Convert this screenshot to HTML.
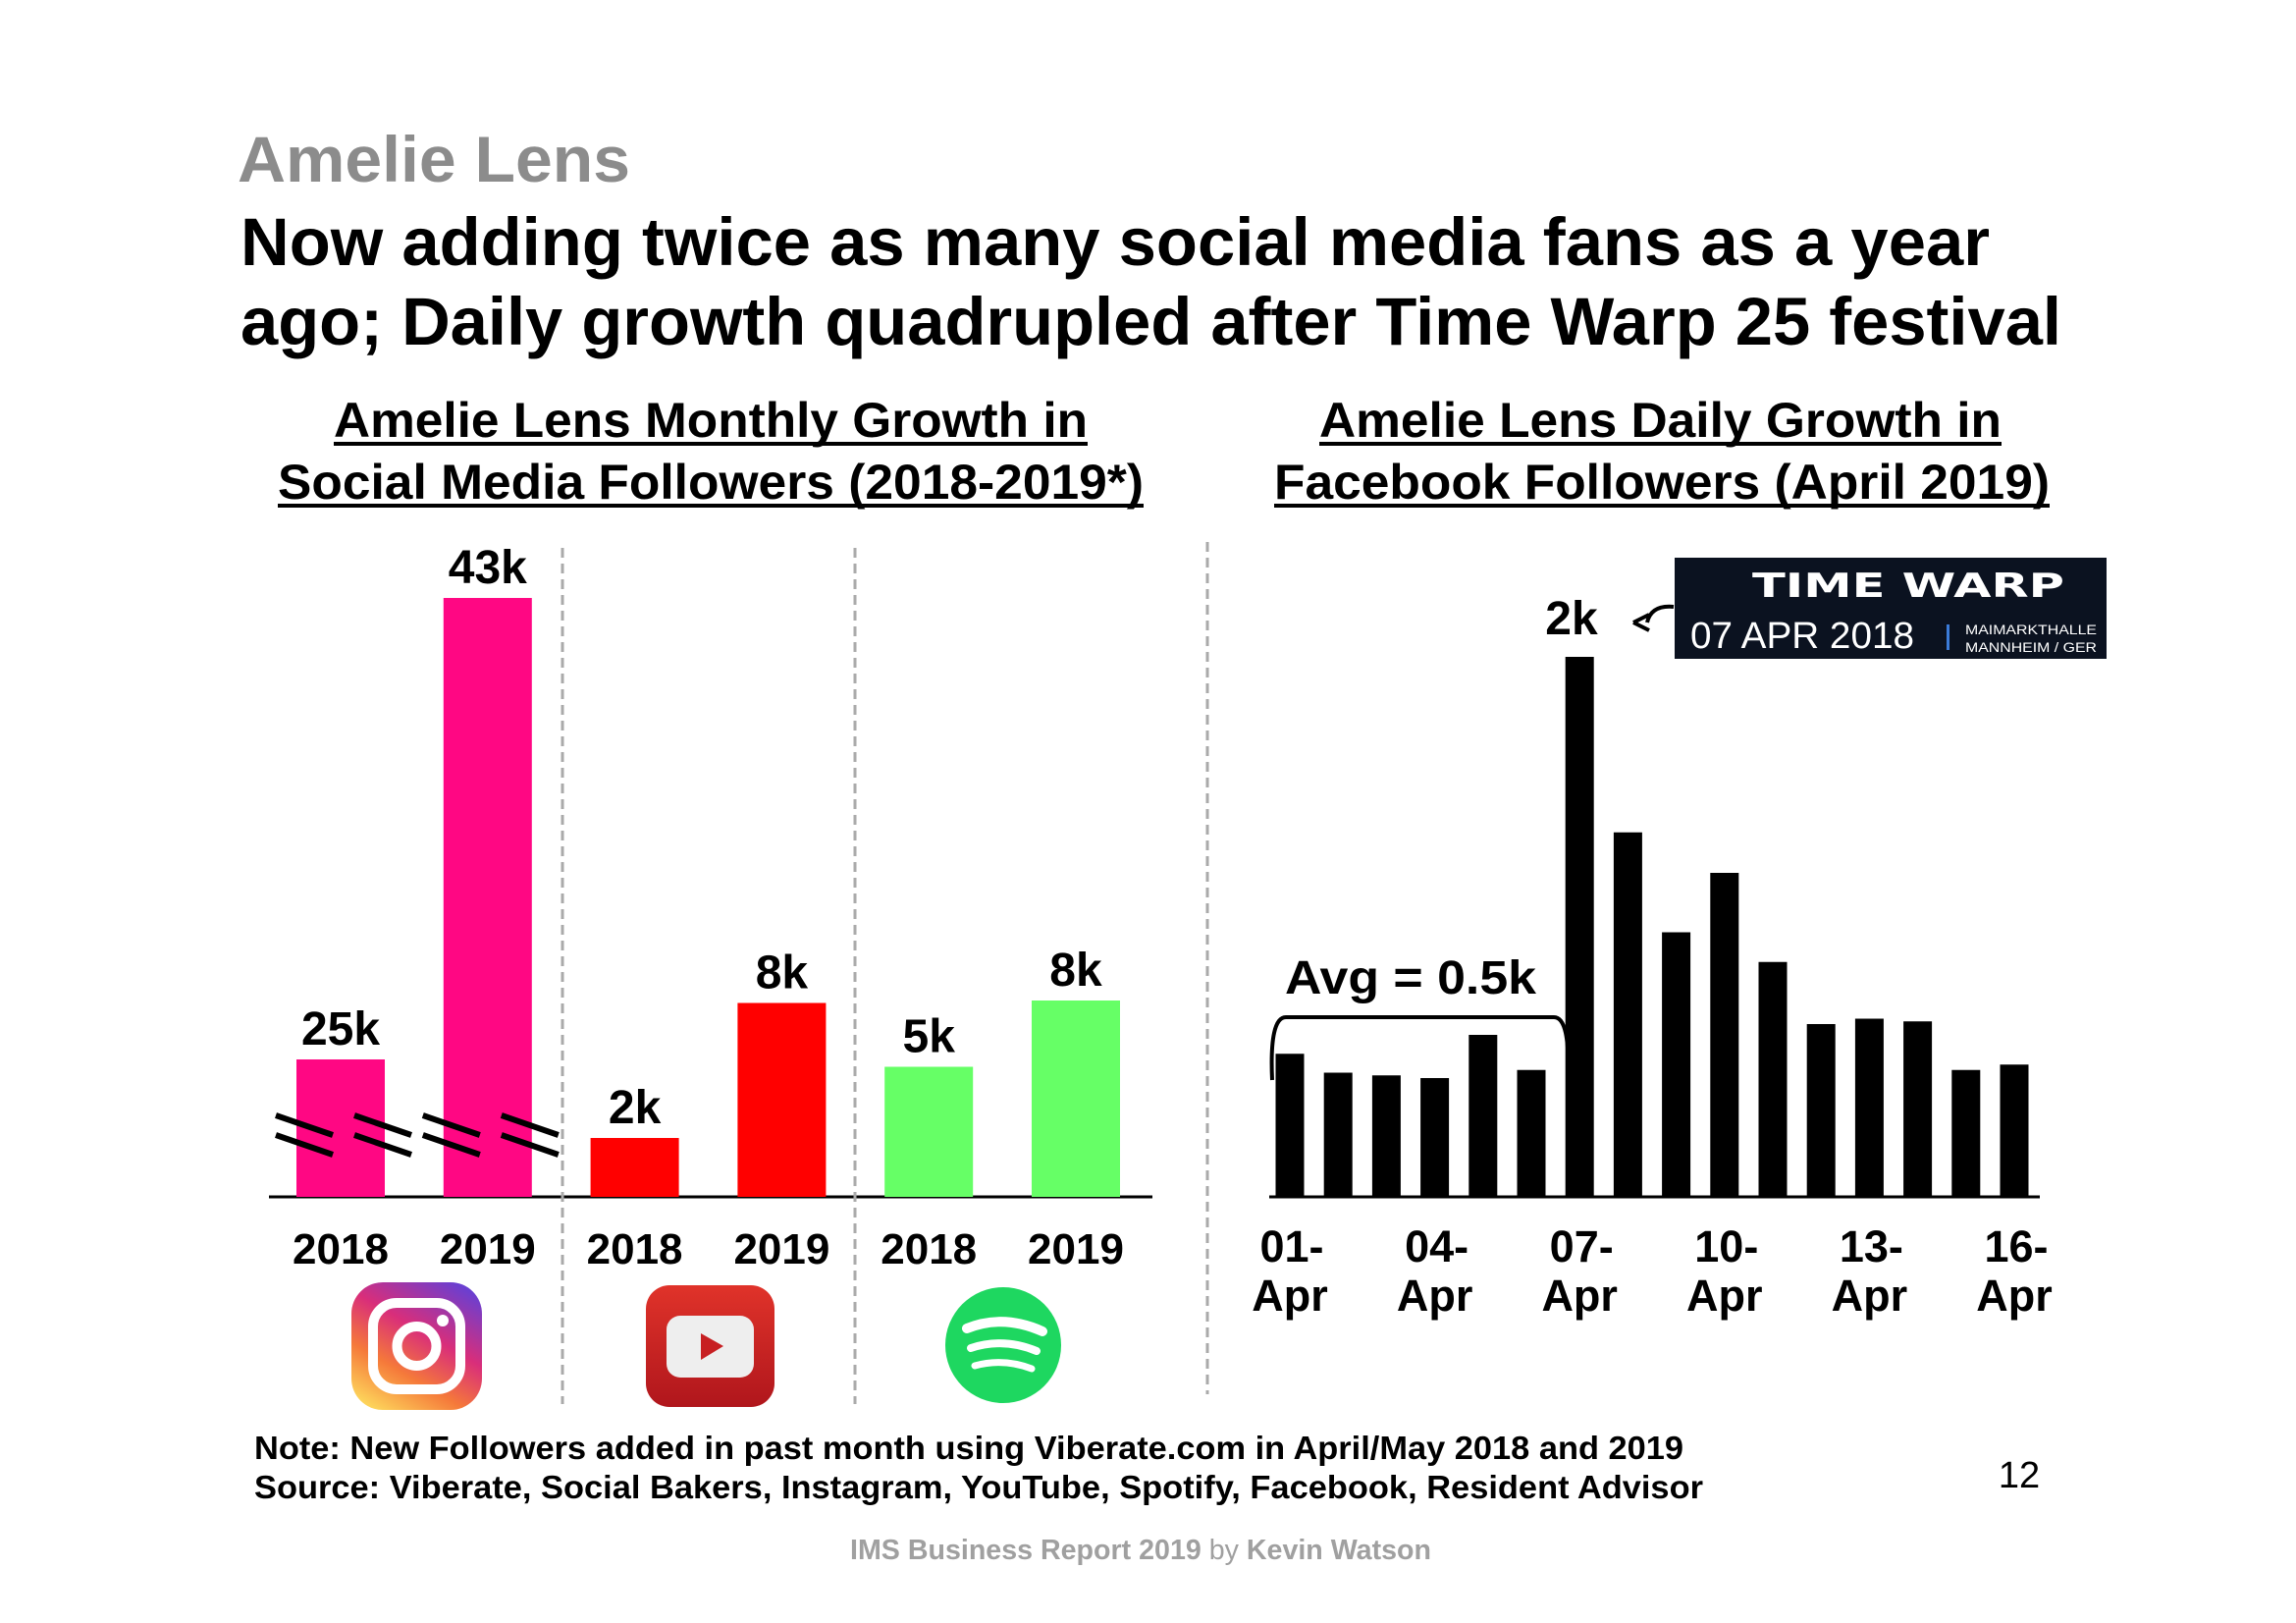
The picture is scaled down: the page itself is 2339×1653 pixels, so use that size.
<!DOCTYPE html>
<html><head><meta charset="utf-8"><style>
html,body{margin:0;padding:0;background:#fff;}
svg{display:block;font-family:"Liberation Sans",Arial,sans-serif;}
</style></head><body>
<svg id="root" width="2339" height="1653" viewBox="0 0 2339 1653" xmlns="http://www.w3.org/2000/svg">
<defs>
<linearGradient id="igg" x1="0.2" y1="1" x2="0.8" y2="0">
<stop offset="0" stop-color="#fdd35a"/><stop offset="0.3" stop-color="#f5793a"/><stop offset="0.6" stop-color="#d92e7a"/><stop offset="1" stop-color="#6a3fd1"/>
</linearGradient>
<linearGradient id="ytg" x1="0" y1="0" x2="0" y2="1"><stop offset="0" stop-color="#e0332a"/><stop offset="1" stop-color="#b0161c"/></linearGradient>
</defs>
<text x="242" y="185" font-size="66" font-weight="bold" fill="#8c8c8c" textLength="400" lengthAdjust="spacingAndGlyphs">Amelie Lens</text>
<text x="245" y="270" font-size="69" font-weight="bold" fill="#000" textLength="1782" lengthAdjust="spacingAndGlyphs">Now adding twice as many social media fans as a year</text>
<text x="245" y="351" font-size="69" font-weight="bold" fill="#000" textLength="1855" lengthAdjust="spacingAndGlyphs">ago; Daily growth quadrupled after Time Warp 25 festival</text>

<g font-size="50" font-weight="bold">
<text x="340" y="445" textLength="768" lengthAdjust="spacingAndGlyphs">Amelie Lens Monthly Growth in</text>
<rect x="340" y="450" width="768" height="4" fill="#000"/>
<text x="283" y="508" textLength="882" lengthAdjust="spacingAndGlyphs">Social Media Followers (2018-2019*)</text>
<rect x="283" y="513" width="882" height="4" fill="#000"/>
</g>
<g font-size="50" font-weight="bold">
<text x="1344" y="445" textLength="695" lengthAdjust="spacingAndGlyphs">Amelie Lens Daily Growth in</text>
<rect x="1344" y="450" width="695" height="4" fill="#000"/>
<text x="1298" y="508" textLength="790" lengthAdjust="spacingAndGlyphs">Facebook Followers (April 2019)</text>
<rect x="1298" y="513" width="790" height="4" fill="#000"/>
</g>

<g id="left"></g>
<g id="right"></g>

<line x1="573" y1="558" x2="573" y2="1430" stroke="#aaa" stroke-width="3" stroke-dasharray="10,6"/>
<line x1="871" y1="558" x2="871" y2="1430" stroke="#aaa" stroke-width="3" stroke-dasharray="10,6"/>
<line x1="1230" y1="552" x2="1230" y2="1420" stroke="#aaa" stroke-width="3" stroke-dasharray="10,6"/>

<g>
<rect x="358" y="1306" width="133" height="130" rx="32" fill="url(#igg)"/>
<rect x="380" y="1327" width="89" height="88" rx="24" fill="none" stroke="#fff" stroke-width="10"/>
<circle cx="424.5" cy="1371" r="20" fill="none" stroke="#fff" stroke-width="10"/>
<circle cx="451" cy="1345" r="6" fill="#fff"/>
</g>
<g>
<rect x="658" y="1309" width="131" height="124" rx="24" fill="url(#ytg)"/>
<rect x="679" y="1340" width="89" height="63" rx="14" fill="#eee"/>
<polygon points="714,1358 714,1385 737,1371" fill="#c71f22"/>
</g>
<g>
<circle cx="1022" cy="1370" r="59" fill="#1ed760"/>
<path d="M985 1353 Q1022 1338 1062 1356" fill="none" stroke="#fff" stroke-width="10" stroke-linecap="round"/>
<path d="M989 1373 Q1022 1362 1056 1376" fill="none" stroke="#fff" stroke-width="8" stroke-linecap="round"/>
<path d="M993 1391 Q1022 1383 1051 1394" fill="none" stroke="#fff" stroke-width="7" stroke-linecap="round"/>
</g>

<g>
<rect x="1706" y="568" width="440" height="103" fill="#0b1220"/>
<text x="1785" y="608" font-size="34" font-weight="bold" fill="#fff" textLength="318" lengthAdjust="spacingAndGlyphs" font-family="'DejaVu Sans',sans-serif">TIME WARP</text>
<text x="1722" y="660" font-size="38" fill="#fff" textLength="228" lengthAdjust="spacingAndGlyphs">07 APR 2018</text>
<rect x="1983" y="636" width="3" height="26" fill="#3b7bd8"/>
<text x="2002" y="646" font-size="14" fill="#fff" textLength="134" lengthAdjust="spacingAndGlyphs">MAIMARKTHALLE</text>
<text x="2002" y="664" font-size="14" fill="#fff" textLength="134" lengthAdjust="spacingAndGlyphs">MANNHEIM / GER</text>
</g>
<path d="M1705 618 Q1682 616 1678 634" fill="none" stroke="#000" stroke-width="4"/>
<path d="M1664 634 L1680 626 M1664 634 L1680 642" stroke="#000" stroke-width="4" fill="none"/>
<text x="1601" y="646" font-size="48" font-weight="bold" text-anchor="middle">2k</text>

<path d="M1296 1100 Q1293 1036 1310 1036 L1583 1036 Q1600 1036 1597 1100" fill="none" stroke="#000" stroke-width="4"/>
<text x="1309" y="1012" font-size="48" font-weight="bold" textLength="256" lengthAdjust="spacingAndGlyphs">Avg = 0.5k</text>

<g font-weight="bold" font-size="33">
<text x="259" y="1486" textLength="1456" lengthAdjust="spacingAndGlyphs">Note: New Followers added in past month using Viberate.com in April/May 2018 and 2019</text>
<text x="259" y="1526" textLength="1476" lengthAdjust="spacingAndGlyphs">Source: Viberate, Social Bakers, Instagram, YouTube, Spotify, Facebook, Resident Advisor</text>
</g>
<text x="2057" y="1515" font-size="38" text-anchor="middle">12</text>
<text x="866" y="1588" font-size="29" fill="#a0a0a0" textLength="592" lengthAdjust="spacingAndGlyphs"><tspan font-weight="bold">IMS Business Report 2019 </tspan><tspan>by </tspan><tspan font-weight="bold">Kevin Watson</tspan></text>
</svg>
<script>
const monthlyYears = ["2018","2019","2018","2019","2018","2019"];
const monthlyValues = [25, 43, 2.4, 7.9, 5.3, 8.0];
const monthlyLabels = ["25k","43k","2k","8k","5k","8k"];
const monthlyBreakOffset = [19.4, 18.6, 0, 0, 0, 0];
const monthlyColors = ["#ff0783","#ff0783","#ff0000","#ff0000","#66ff66","#66ff66"];

const dailyDays = ["01","02","03","04","05","06","07","08","09","10","11","12","13","14","15","16"];
const dailyValues = [0.53,0.46,0.45,0.44,0.60,0.47,2.0,1.35,0.98,1.20,0.87,0.64,0.66,0.65,0.47,0.49];
const dailyTickLabels = ["01-","04-","07-","10-","13-","16-"];
const dailyTickIdx = [0,3,6,9,12,15];

const NS = "http://www.w3.org/2000/svg";
function mk(tag, attrs, parent){const e=document.createElementNS(NS,tag);for(const k in attrs)e.setAttribute(k,attrs[k]);parent.appendChild(e);return e;}

const base = 1219;
const L = document.getElementById('left');
const lx = i => 347 + i*149.8;
const ly = (v,i) => base - (v - monthlyBreakOffset[i])*25;
let ax = mk('line',{x1:274,y1:base,x2:1174,y2:base,stroke:'#000','stroke-width':3},L);


monthlyValues.forEach((v,i)=>{
  const y = ly(v,i);
  const r = mk('rect',{x:lx(i)-45,y:y,width:90,height:base-y,fill:monthlyColors[i]},L);
  
  
  const t = mk('text',{x:lx(i),y:y-15,'font-size':48,'font-weight':'bold','text-anchor':'middle'},L);
  t.textContent = monthlyLabels[i];
  
  
  const yl = mk('text',{x:lx(i),y:1287,'font-size':44,'font-weight':'bold','text-anchor':'middle'},L);
  yl.textContent = monthlyYears[i];
  
  
});
[0,1].forEach(i=>{
  [-37,43].forEach(dx=>{
    const cx = lx(i)+dx;
    [0,20].forEach(dy=>{
      const l = mk('line',{x1:cx-29,y1:1136+dy,x2:cx+29,y2:1156+dy,stroke:'#000','stroke-width':6},L);
      
      
    });
  });
});

const R = document.getElementById('right');
const dx = i => 1314 + i*49.2;
const dy = v => base - v*275;
let ax2 = mk('line',{x1:1293,y1:base,x2:2078,y2:base,stroke:'#000','stroke-width':3},R);


dailyValues.forEach((v,i)=>{
  const y = dy(v);
  const r = mk('rect',{x:dx(i)-14.5,y:y,width:29,height:base-y,fill:'#000'},R);
  
  
});
dailyTickIdx.forEach((idx,k)=>{
  const t = mk('text',{x:dx(idx)+2,y:1285,'font-size':45,'font-weight':'bold','text-anchor':'middle'},R);
  t.textContent = dailyTickLabels[k];
  
  
  const t2 = mk('text',{x:dx(idx),y:1335,'font-size':45,'font-weight':'bold','text-anchor':'middle'},R);
  t2.textContent = 'Apr';
  
  
});
</script>
</body></html>
